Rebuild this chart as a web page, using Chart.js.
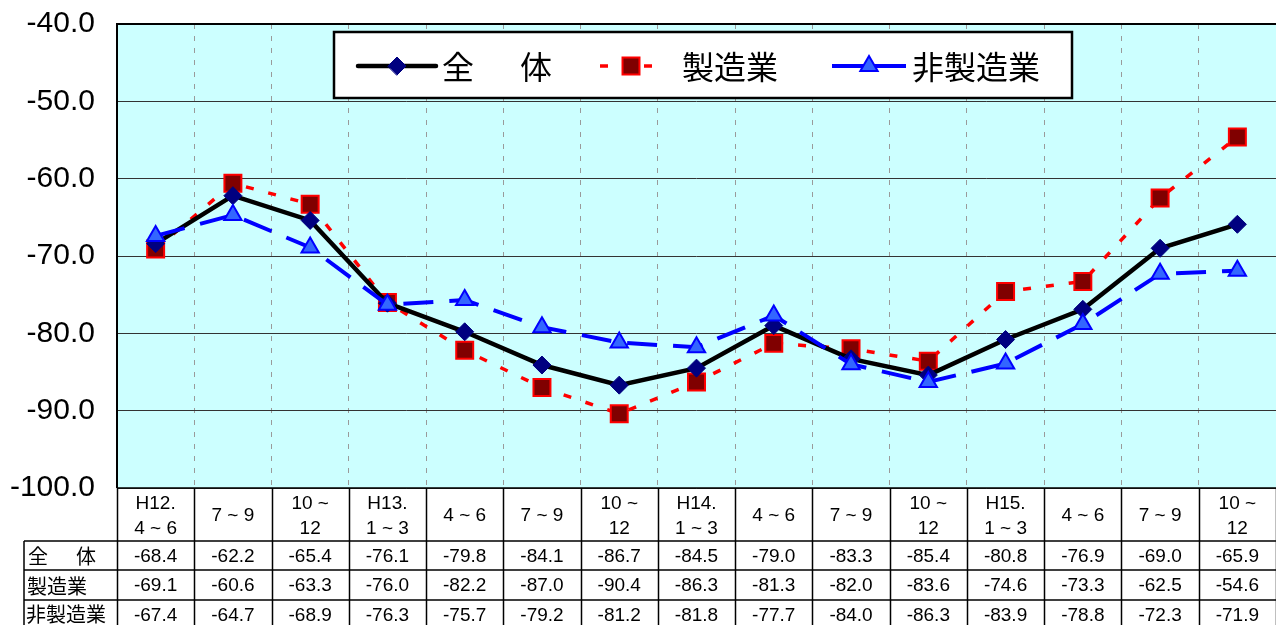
<!DOCTYPE html>
<html>
<head>
<meta charset="utf-8">
<script src="https://cdn.jsdelivr.net/npm/chart.js@4.4.1/dist/chart.umd.min.js"></script>
<style>
  html, body { margin: 0; padding: 0; background: #fff; overflow: hidden; }
  canvas { display: block; }
</style>
</head>
<body>
<canvas id="chart" width="1276" height="625" style="width:1276px;height:625px"></canvas>
<script>
// 期間ラベル（表の見出し、1行または2行）
const categories = [
    ['H12.', '4 ~ 6'], ['7 ~ 9'], ['10 ~', '12'], ['H13.', '1 ~ 3'], ['4 ~ 6'], ['7 ~ 9'], ['10 ~', '12'],
    ['H14.', '1 ~ 3'], ['4 ~ 6'], ['7 ~ 9'], ['10 ~', '12'], ['H15.', '1 ~ 3'], ['4 ~ 6'], ['7 ~ 9'], ['10 ~', '12']
];
const seriesNames = ['全　体', '製造業', '非製造業'];
const zentai     = [-68.4, -62.2, -65.4, -76.1, -79.8, -84.1, -86.7, -84.5, -79.0, -83.3, -85.4, -80.8, -76.9, -69.0, -65.9];
const seizo      = [-69.1, -60.6, -63.3, -76.0, -82.2, -87.0, -90.4, -86.3, -81.3, -82.0, -83.6, -74.6, -73.3, -62.5, -54.6];
const hiseizo    = [-67.4, -64.7, -68.9, -76.3, -75.7, -79.2, -81.2, -81.8, -77.7, -84.0, -86.3, -83.9, -78.8, -72.3, -71.9];
const yTicks     = [-100, -90, -80, -70, -60, -50, -40];

const FONT = "'Liberation Sans', Arial, sans-serif";
const JP = "'Noto Sans CJK JP', sans-serif";

// 背景と枠線
const bgPlugin = {
    id: 'plotBg',
    beforeDraw: (chart) => {
        const { ctx, chartArea: a } = chart;
        ctx.save();
        ctx.fillStyle = '#CCFFFF';
        ctx.fillRect(a.left, a.top, a.right - a.left, a.bottom - a.top);
        ctx.restore();
    },
    afterDatasetsDraw: (chart) => {
        const { ctx, chartArea: a } = chart;
        ctx.save();
        ctx.strokeStyle = '#000';
        ctx.lineWidth = 2;
        ctx.beginPath();
        ctx.moveTo(a.left, a.bottom);
        ctx.lineTo(a.left, a.top);
        ctx.lineTo(a.right, a.top);
        ctx.stroke();
        ctx.restore();
    }
};

// 凡例（線＋マーカー）
const legendPlugin = {
    id: 'customLegend',
    afterDraw: (chart) => {
        const { ctx } = chart;
        ctx.save();
        ctx.fillStyle = '#fff';
        ctx.fillRect(334, 32, 738, 66);
        ctx.strokeStyle = '#000';
        ctx.lineWidth = 2.5;
        ctx.strokeRect(334, 32, 738, 66);

        const items = [
            { x0: 358, x1: 436, tx: 440, dash: [] },
            { x0: 600, x1: 662, tx: 682, dash: [8, 14] },
            { x0: 832, x1: 906, tx: 912, dash: [] }
        ];
        const y = 66;
        chart.data.datasets.forEach((ds, i) => {
            const it = items[i];
            ctx.save();
            ctx.strokeStyle = ds.borderColor;
            ctx.lineWidth = ds.borderWidth;
            ctx.setLineDash(it.dash);
            ctx.lineCap = i === 0 ? 'round' : 'butt';
            ctx.beginPath();
            ctx.moveTo(it.x0, y);
            ctx.lineTo(it.x1, y);
            ctx.stroke();
            ctx.fillStyle = ds.pointBackgroundColor;
            ctx.strokeStyle = ds.pointBorderColor;
            ctx.lineWidth = ds.pointBorderWidth;
            ctx.setLineDash([]);
            Chart.helpers.drawPoint(ctx, { pointStyle: ds.pointStyle, radius: ds.pointRadius, borderWidth: ds.pointBorderWidth }, (it.x0 + it.x1) / 2, y);
            ctx.restore();
        });

        ctx.fillStyle = '#000';
        ctx.font = `32px ${JP}`;
        ctx.textBaseline = 'middle';
        ctx.textAlign = 'left';
        ctx.fillText('全', 442, y + 1);
        ctx.fillText('体', 520, y + 1);
        ctx.fillText(seriesNames[1], items[1].tx, y + 1);
        ctx.fillText(seriesNames[2], items[2].tx, y + 1);
        ctx.restore();
    }
};

// 下部のデータ表
const tablePlugin = {
    id: 'dataTable',
    afterDraw: (chart) => {
        const { ctx, chartArea: a } = chart;
        const xs = chart.scales.x;
        const half = (xs.getPixelForValue(1) - xs.getPixelForValue(0)) / 2;
        const rowsY = [a.bottom, 541, 570, 600, 630];
        const labelLeft = 24;
        ctx.save();
        ctx.strokeStyle = '#000';
        ctx.lineWidth = 1.5;
        ctx.beginPath();
        ctx.moveTo(a.left, rowsY[0]); ctx.lineTo(a.right, rowsY[0]);
        for (let r = 1; r < 4; r++) { ctx.moveTo(labelLeft, rowsY[r]); ctx.lineTo(a.right, rowsY[r]); }
        for (let i = 0; i <= categories.length; i++) {
            const x = Math.round(xs.getPixelForValue(i) - half) + 0.5;
            ctx.moveTo(x, rowsY[0]); ctx.lineTo(x, 625);
        }
        ctx.moveTo(labelLeft, rowsY[1]); ctx.lineTo(labelLeft, 625);
        ctx.stroke();

        ctx.fillStyle = '#000';
        ctx.textAlign = 'center';
        ctx.textBaseline = 'middle';
        ctx.font = `19px ${FONT}`;
        const hMid = (rowsY[0] + rowsY[1]) / 2;
        categories.forEach((lines, i) => {
            const cx = xs.getPixelForValue(i);
            if (lines.length === 1) {
                ctx.fillText(lines[0], cx, hMid + 1);
            } else {
                ctx.fillText(lines[0], cx, hMid - 11);
                ctx.fillText(lines[1], cx, hMid + 14);
            }
        });
        chart.data.datasets.forEach((ds, r) => {
            const ym = (rowsY[r + 1] + rowsY[r + 2]) / 2 + 1;
            ds.data.forEach((v, i) => {
                ctx.fillText(v.toFixed(1), xs.getPixelForValue(i), ym);
            });
        });
        // 系列名
        ctx.font = `20px ${JP}`;
        ctx.textAlign = 'left';
        ctx.fillText('全', 28, (rowsY[1] + rowsY[2]) / 2 + 1);
        ctx.fillText('体', 76, (rowsY[1] + rowsY[2]) / 2 + 1);
        ctx.fillText(seriesNames[1], 27, (rowsY[2] + rowsY[3]) / 2 + 1);
        ctx.fillText(seriesNames[2], 26, (rowsY[3] + rowsY[4]) / 2 - 1);
        ctx.restore();
    }
};

new Chart(document.getElementById('chart'), {
    type: 'line',
    plugins: [bgPlugin, tablePlugin, legendPlugin],
    data: {
        labels: categories.map(c => c.join(' ')),
        datasets: [
            {
                label: seriesNames[0], data: zentai, order: 2,
                borderColor: '#000000', borderWidth: 4.5,
                pointStyle: 'rectRot', pointRadius: 9,
                pointBackgroundColor: '#000080', pointBorderColor: '#000080', pointBorderWidth: 1
            },
            {
                label: seriesNames[1], data: seizo, order: 3,
                borderColor: '#FF0000', borderWidth: 3.5, borderDash: [8, 15],
                pointStyle: 'rect', pointRadius: 12,
                pointBackgroundColor: '#800000', pointBorderColor: '#FF0000', pointBorderWidth: 2
            },
            {
                label: seriesNames[2], data: hiseizo, order: 1,
                borderColor: '#0000FF', borderWidth: 4, borderDash: [30, 16],
                pointStyle: 'triangle', pointRadius: 10,
                pointBackgroundColor: '#3366FF', pointBorderColor: '#0000FF', pointBorderWidth: 2
            }
        ]
    },
    options: {
        responsive: false,
        animation: false,
        events: [],
        layout: { autoPadding: false, padding: { top: 24, right: 0, left: 0, bottom: 0 } },
        plugins: {
            legend: { display: false },
            tooltip: { enabled: false }
        },
        scales: {
            x: {
                offset: true,
                ticks: { display: false },
                grid: { offset: true, color: '#9a9a9a', lineWidth: 1, drawTicks: false },
                border: { display: false, dash: [5, 7] },
                afterFit: (s) => { s.height = 137; s.paddingLeft = 0; s.paddingRight = 0; }
            },
            y: {
                min: -100, max: -40,
                afterBuildTicks: (s) => { s.ticks = yTicks.map(v => ({ value: v })); },
                ticks: {
                    color: '#000',
                    padding: 22,
                    font: { family: FONT, size: 30 },
                    callback: (v) => Number(v).toFixed(1)
                },
                grid: { color: '#333333', lineWidth: 1, drawTicks: false },
                border: { display: false },
                afterFit: (s) => { s.width = 117; s.paddingTop = 0; s.paddingBottom = 0; }
            }
        }
    }
});
</script>
</body>
</html>
